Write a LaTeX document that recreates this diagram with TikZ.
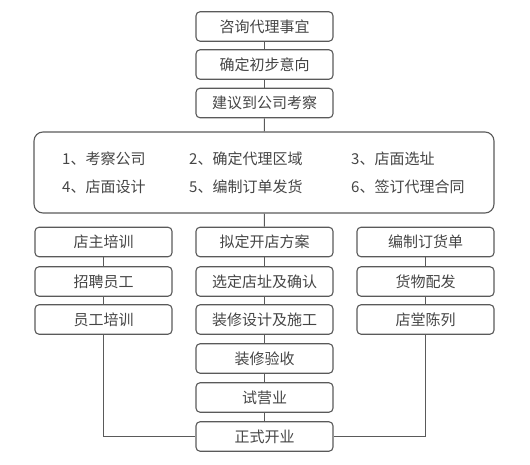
\documentclass[tikz,border=0pt]{standalone}
\usepackage{fontspec}
\setmainfont{Noto Sans CJK SC}
\usepackage{xcolor}
\usepackage{tikz}
\usetikzlibrary{positioning, calc}
\definecolor{linegray}{HTML}{5A5A5A}
\definecolor{textgray}{HTML}{454545}

\begin{document}
\begin{tikzpicture}[
    x=1pt, y=1pt,
    box/.style={draw=linegray, line width=1.1pt, rounded corners=4pt, minimum width=137pt, minimum height=29.5pt, inner sep=0pt, align=center, text=textgray, font=\fontsize{15}{18}\selectfont},
    bigbox/.style={draw=linegray, line width=1.1pt, rounded corners=9pt, minimum width=460pt, minimum height=81pt, inner sep=0pt},
    item/.style={anchor=west, inner sep=0pt, text=textgray, font=\fontsize{15}{18}\selectfont},
    link/.style={draw=linegray, line width=1.1pt}
]
    \useasboundingbox (0,0) rectangle (530,464);

    % top chain
    \node[box] at (264.5,437.5) (consult) {咨询代理事宜};
    \node[box] at (264.5,399.5) (intent) {确定初步意向};
    \node[box] at (264.5,361) (visit) {建议到公司考察};

    % steps box
    \node[bigbox] at (264,291.5) (steps) {};
    \node[item] at (62,305) (s1) {1、考察公司};
    \node[item] at (189,305) (s2) {2、确定代理区域};
    \node[item] at (351,305) (s3) {3、店面选址};
    \node[item] at (62,277) (s4) {4、店面设计};
    \node[item] at (189,277) (s5) {5、编制订单发货};
    \node[item] at (351,277) (s6) {6、签订代理合同};

    % left column
    \node[box] at (103.5,222) (owner) {店主培训};
    \node[box] at (103.5,182.5) (hire) {招聘员工};
    \node[box] at (103.5,144.5) (staff) {员工培训};

    % middle column
    \node[box] at (264.5,222) (plan) {拟定开店方案};
    \node[box] at (264.5,182.5) (site) {选定店址及确认};
    \node[box] at (264.5,144.5) (decor) {装修设计及施工};
    \node[box] at (264.5,105.5) (accept) {装修验收};
    \node[box] at (264.5,66.5) (trial) {试营业};
    \node[box] at (264.5,27.5) (open) {正式开业};

    % right column
    \node[box] at (425.5,222) (order) {编制订货单};
    \node[box] at (425.5,182.5) (deliver) {货物配发};
    \node[box] at (425.5,144.5) (display) {店堂陈列};

    % connectors
    \draw[link] (consult) -- (intent);
    \draw[link] (intent) -- (visit);
    \draw[link] (visit) -- (steps);
    \draw[link] (steps) -- (plan);
    \draw[link] (plan) -- (site);
    \draw[link] (site) -- (decor);
    \draw[link] (decor) -- (accept);
    \draw[link] (accept) -- (trial);
    \draw[link] (trial) -- (open);
    \draw[link] (owner) -- (hire);
    \draw[link] (hire) -- (staff);
    \draw[link] (staff.south) |- (open.west);
    \draw[link] (order) -- (deliver);
    \draw[link] (deliver) -- (display);
    \draw[link] (display.south) |- (open.east);
\end{tikzpicture}
\end{document}
